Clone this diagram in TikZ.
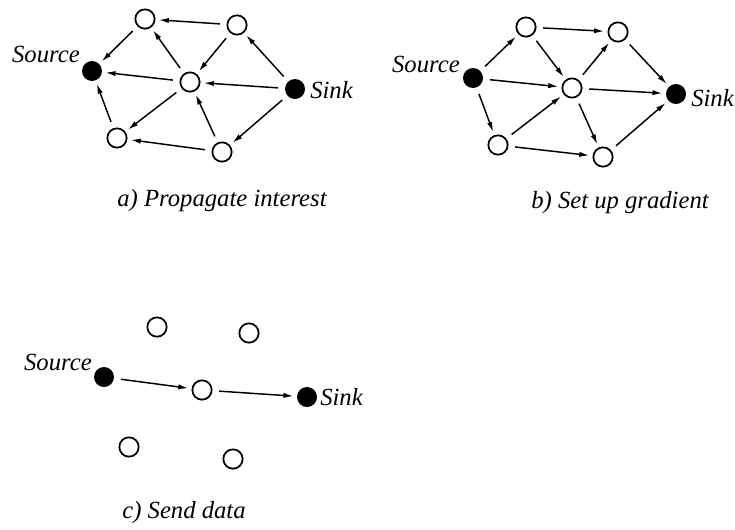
\documentclass[tikz,border=0pt]{standalone}
\usepackage{fontspec}
\setmainfont{Liberation Serif}
\newfontfamily\labelfont{Liberation Serif}[ItalicFont={Liberation Serif Italic}]
\usetikzlibrary{arrows.meta}

\begin{document}
\begin{tikzpicture}[x=0.75pt, y=-0.75pt,
  open/.style={circle, draw, line width=1.3pt, fill=white, minimum size=14.5pt, inner sep=0pt},
  solid/.style={circle, fill=black, minimum size=15pt, inner sep=0pt},
  lbl/.style={inner sep=0pt, font=\labelfont\fontsize{18.5}{22}\selectfont\itshape},
  flow/.style={line width=1.1pt, -{Latex[length=7.5pt,width=4pt]}, shorten <=5pt, shorten >=2.5pt}
]
\useasboundingbox (0,0) rectangle (735,529);

% ---------- a) Propagate interest ----------
\node[solid] (aSrc) at (92,71) {};
\node[open]  (aTL)  at (145,19) {};
\node[open]  (aTR)  at (237,25) {};
\node[open]  (aC)   at (190,82) {};
\node[solid] (aSnk) at (295,89) {};
\node[open]  (aBL)  at (117,138) {};
\node[open]  (aBR)  at (222,152) {};
\node[lbl, anchor=base east] (aSrcL) at (80,62) {Source};
\node[lbl, anchor=base west] (aSnkL) at (310,98) {Sink};
\node[lbl, anchor=base] (aCap) at (222,206) {a) Propagate interest};

\draw[flow] (aTR) -- (aTL);
\draw[flow] (aTL) -- (aSrc);
\draw[flow] (aC) -- (aTL);
\draw[flow] (aC) -- (aSrc);
\draw[flow] (aTR) -- (aC);
\draw[flow] (aSnk) -- (aTR);
\draw[flow] (aSnk) -- (aC);
\draw[flow] (aSnk) -- (aBR);
\draw[flow] (aC) -- (aBL);
\draw[flow] (aBR) -- (aC);
\draw[flow] (aBR) -- (aBL);
\draw[flow] (aBL) -- (aSrc);

% ---------- b) Set up gradient ----------
\node[solid] (bSrc) at (473,78) {};
\node[open]  (bTL)  at (526,27) {};
\node[open]  (bTR)  at (618,32) {};
\node[open]  (bC)   at (572,88) {};
\node[solid] (bSnk) at (676,94) {};
\node[open]  (bBL)  at (498,145) {};
\node[open]  (bBR)  at (603,157) {};
\node[lbl, anchor=base east] (bSrcL) at (460,72) {Source};
\node[lbl, anchor=base west] (bSnkL) at (691,106) {Sink};
\node[lbl, anchor=base] (bCap) at (620,208) {b) Set up gradient};

\draw[flow] (bSrc) -- (bTL);
\draw[flow] (bTL) -- (bTR);
\draw[flow] (bTL) -- (bC);
\draw[flow] (bSrc) -- (bC);
\draw[flow] (bTR) -- (bSnk);
\draw[flow] (bC) -- (bTR);
\draw[flow] (bC) -- (bSnk);
\draw[flow] (bSrc) -- (bBL);
\draw[flow] (bBL) -- (bC);
\draw[flow] (bC) -- (bBR);
\draw[flow] (bBL) -- (bBR);
\draw[flow] (bBR) -- (bSnk);

% ---------- c) Send data ----------
\node[open]  (cTL)  at (157,327) {};
\node[open]  (cTR)  at (249,333) {};
\node[solid] (cSrc) at (104,377) {};
\node[open]  (cC)   at (202,390) {};
\node[solid] (cSnk) at (307,397) {};
\node[open]  (cBL)  at (129,447) {};
\node[open]  (cBR)  at (233,459) {};
\node[lbl, anchor=base east] (cSrcL) at (92,370) {Source};
\node[lbl, anchor=base west] (cSnkL) at (320,405) {Sink};
\node[lbl, anchor=base] (cCap) at (184,518) {c) Send data};

\draw[flow] (cSrc) -- (cC);
\draw[flow] (cC) -- (cSnk);
\end{tikzpicture}
\end{document}
